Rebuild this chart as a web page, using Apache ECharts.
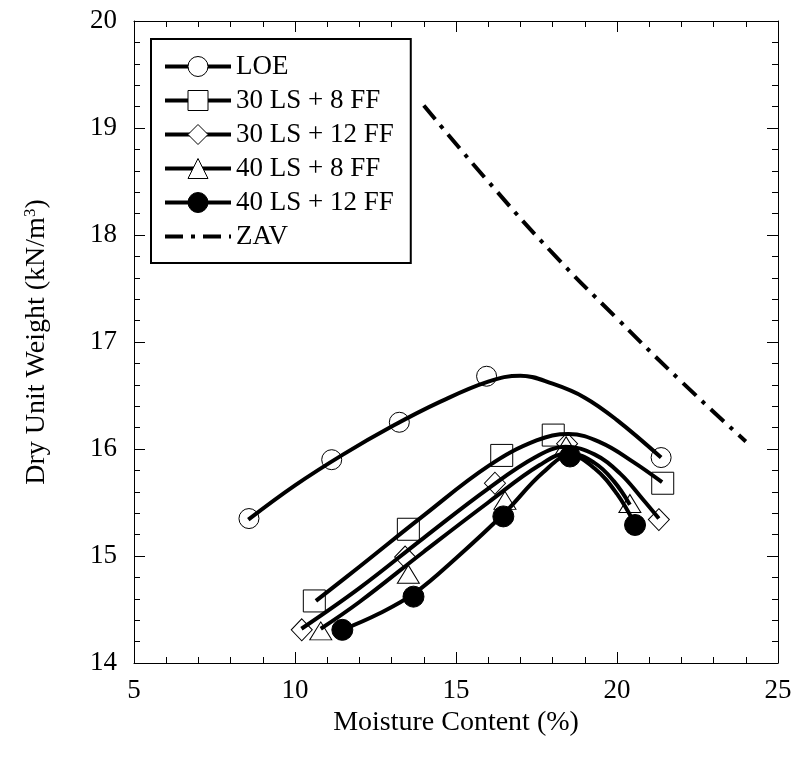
<!DOCTYPE html>
<html>
<head>
<meta charset="utf-8">
<script src="https://cdn.jsdelivr.net/npm/echarts@6/dist/echarts.min.js"></script>
<style>
  html, body { margin: 0; padding: 0; background: #fff; }
  #chart { width: 795px; height: 760px; }
</style>
</head>
<body>
<div id="chart"></div>
<script>
// measured points [moisture %, dry unit weight kN/m3]
var loePts   = [[8.57, 15.35], [11.14, 15.90], [13.24, 16.25], [15.95, 16.68], [21.37, 15.92]];
var ls30ff8  = [[10.6, 14.58], [13.52, 15.25], [16.42, 15.94], [18.02, 16.13], [21.42, 15.68]];
var ls30ff12 = [[10.21, 14.31], [13.42, 14.99], [16.21, 15.68], [18.45, 16.05], [21.3, 15.34]];
var ls40ff8  = [[10.8, 14.30], [13.52, 14.83], [16.52, 15.52], [18.42, 16.03], [20.4, 15.49]];
var ls40ff12 = [[11.47, 14.31], [13.68, 14.62], [16.47, 15.37], [18.54, 15.93], [20.56, 15.29]];

// fitted compaction curves
var loeFit   = [[8.55, 15.34], [10, 15.66], [11.5, 15.95], [13, 16.21], [14.5, 16.44], [16, 16.63], [17, 16.685], [18, 16.61], [19, 16.48], [20, 16.27], [21.37, 15.92]];
var ls30ff8Fit  = [[10.65, 14.58], [12, 14.90], [14, 15.38], [16, 15.84], [17.5, 16.08], [18.5, 16.14], [19.5, 16.06], [20.5, 15.88], [21.4, 15.69]];
var ls30ff12Fit = [[10.2, 14.32], [12, 14.70], [14, 15.17], [16, 15.63], [17.5, 15.93], [18.4, 16.02], [19.3, 15.95], [20.1, 15.77], [20.8, 15.53], [21.3, 15.35]];
var ls40ff8Fit  = [[10.8, 14.32], [12, 14.57], [14, 15.04], [16, 15.50], [17.6, 15.85], [18.5, 15.96], [19.3, 15.87], [19.9, 15.70], [20.4, 15.48]];
var ls40ff12Fit = [[11.47, 14.31], [12.6, 14.46], [13.7, 14.65], [15, 14.98], [16.5, 15.40], [17.7, 15.78], [18.55, 15.94], [19.3, 15.82], [20, 15.58], [20.55, 15.30]];

// zero air voids line
var zavLine = [[14, 19.21], [16, 18.50], [18, 17.83], [20, 17.22], [22, 16.63], [24, 16.07]];

var legendNames = ['LOE', '30 LS + 8 FF', '30 LS + 12 FF', '40 LS + 8 FF', '40 LS + 12 FF', 'ZAV'];

var font = 'Liberation Serif';
var chart = echarts.init(document.getElementById('chart'));

function curve(name, data, symbol, filled) {
    return {
        name: name, type: 'line', data: data, smooth: 0.4,
        showSymbol: false, symbol: symbol, symbolSize: 20, z: 3,
        lineStyle: { color: '#000', width: 4 },
        itemStyle: { color: filled ? '#000' : '#fff', borderColor: '#000', borderWidth: 1 }
    };
}

function points(data, symbol, size, filled) {
    return {
        type: 'scatter', data: data, symbol: symbol, symbolSize: size, z: 2,
        itemStyle: { color: filled ? '#000' : '#fff', borderColor: '#000', borderWidth: 1, opacity: 1 }
    };
}

// plain frame axis, ticks pointing inward
function frameAxis(pos, min, max, interval) {
    return {
        type: 'value', position: pos, min: min, max: max, interval: interval,
        axisLine: { show: true, onZero: false, lineStyle: { color: '#000', width: 1 } },
        axisTick: { show: true, inside: true, length: 11, lineStyle: { color: '#000' } },
        minorTick: { show: true, splitNumber: 5, length: 6, lineStyle: { color: '#000' } },
        splitLine: { show: false },
        axisLabel: { show: false }
    };
}

var xBottom = frameAxis('bottom', 5, 25, 5);
xBottom.axisLabel = { show: true, fontFamily: font, fontSize: 27, color: '#000', margin: 14 };
xBottom.name = 'Moisture Content (%)';
xBottom.nameLocation = 'middle';
xBottom.nameGap = 44;
xBottom.nameTextStyle = { fontFamily: font, fontSize: 28, color: '#000' };

var yLeft = frameAxis('left', 14, 20, 1);
yLeft.axisLabel = { show: true, fontFamily: font, fontSize: 27, color: '#000', margin: 17 };
yLeft.name = 'Dry Unit Weight (kN/m{sup|3})';
yLeft.nameLocation = 'middle';
yLeft.nameGap = 82;
yLeft.nameTextStyle = {
    fontFamily: font, fontSize: 28, color: '#000',
    rich: { sup: { fontFamily: font, fontSize: 17, color: '#000', verticalAlign: 'top', lineHeight: 30 } }
};

var option = {
    backgroundColor: '#fff',
    animation: false,
    grid: { left: 134, right: 17, top: 21, bottom: 97 },
    xAxis: [xBottom, frameAxis('top', 5, 25, 5)],
    yAxis: [yLeft, frameAxis('right', 14, 20, 1)],
    legend: {
        data: legendNames.slice(0, 5).map(function (n) { return { name: n }; }).concat([{
            name: 'ZAV',
            icon: 'path://M0,0h18v4h-18z M26,0h4v4h-4z M38,0h18v4h-18z M64,0h2v4h-2z'
        }]),
        orient: 'vertical', left: 151, top: 39,
        padding: [14, 17, 13, 12],
        itemWidth: 66, itemHeight: 25, itemGap: 7,
        selectedMode: false,
        borderColor: '#000', borderWidth: 2, backgroundColor: '#fff',
        itemStyle: { borderWidth: 1 },
        lineStyle: { width: 4 },
        textStyle: { fontFamily: font, fontSize: 27, color: '#000' }
    },
    series: [
        points(loePts, 'circle', 20, false),
        points(ls30ff8, 'rect', 22, false),
        points(ls30ff12, 'diamond', [21, 22], false),
        points(ls40ff8, 'triangle', [22, 18], false),
        points(ls40ff12, 'circle', 21, true),
        curve(legendNames[0], loeFit, 'circle', false),
        curve(legendNames[1], ls30ff8Fit, 'rect', false),
        curve(legendNames[2], ls30ff12Fit, 'diamond', false),
        curve(legendNames[3], ls40ff8Fit, 'triangle', false),
        curve(legendNames[4], ls40ff12Fit, 'circle', true),
        {
            name: legendNames[5], type: 'line', data: zavLine, smooth: true,
            showSymbol: false, symbol: 'none', z: 3,
            itemStyle: { color: '#000' },
            lineStyle: { color: '#000', width: 4, type: [18, 8, 4, 8] }
        }
    ]
};

chart.setOption(option);
</script>
</body>
</html>
